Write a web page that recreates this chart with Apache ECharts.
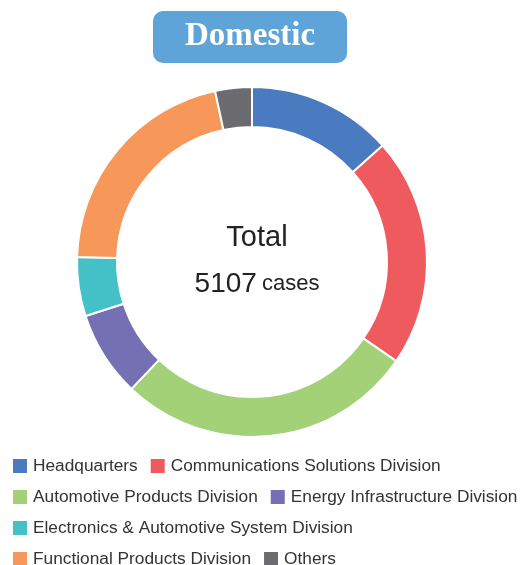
<!DOCTYPE html>
<html>
<head>
    <meta charset="utf-8" />
    <title>Domestic</title>
    <style>
        html, body { margin: 0; padding: 0; background: #fff; }
    </style>
</head>
<body>
<div id="main" style="width:521px;height:565px"></div>
<script src="https://cdn.jsdelivr.net/npm/echarts@6/dist/echarts.min.js"></script>
<script type="text/javascript">
    var divisions = ['Headquarters', 'Communications Solutions Division', 'Automotive Products Division',
        'Energy Infrastructure Division', 'Electronics & Automotive System Division',
        'Functional Products Division', 'Others'];
    var cases = [685, 1081, 1405, 404, 279, 1080, 173];
    var colors = ['#4a7abf', '#ef5a5e', '#a3d177', '#7570b3', '#44c1c6', '#f7975a', '#6b6b70'];

    var total = 0;
    for (var i = 0; i < cases.length; i++) total += cases[i];

    var myChart = echarts.init(document.getElementById('main'));
    var option = {
        backgroundColor: '#fff',
        color: colors,
        title: [{
            text: 'Domestic',
            left: 153,
            top: 11,
            padding: [9, 32, 10, 32],
            backgroundColor: '#5fa4d8',
            borderRadius: 10,
            textStyle: {
                color: '#fff',
                fontFamily: 'Liberation Serif',
                fontWeight: 'bold',
                fontSize: 33
            }
        }, {
            text: '{t|Total}\n{n|' + total + '} {c|cases}',
            left: 252,
            top: 210,
            textAlign: 'center',
            textStyle: {
                rich: {
                    t: { fontFamily: 'Liberation Sans', fontWeight: 'normal', fontSize: 29, color: '#222', lineHeight: 46, align: 'center' },
                    n: { fontFamily: 'Liberation Sans', fontWeight: 'normal', fontSize: 28, color: '#222', lineHeight: 46 },
                    c: { fontFamily: 'Liberation Sans', fontWeight: 'normal', fontSize: 22, color: '#222', lineHeight: 46 }
                }
            }
        }],
        legend: {
            data: divisions,
            left: 11,
            top: 456,
            width: 515,
            padding: 0,
            itemWidth: 16,
            itemHeight: 16,
            itemGap: 11,
            icon: 'rect',
            textStyle: {
                fontFamily: 'Liberation Sans',
                fontSize: 17.3,
                color: '#333',
                lineHeight: 20
            }
        },
        series: [{
            type: 'pie',
            center: [252, 262],
            radius: [135, 175],
            startAngle: 90,
            clockwise: true,
            silent: true,
            label: { show: false },
            labelLine: { show: false },
            itemStyle: { borderColor: '#fff', borderWidth: 2 },
            data: divisions.map(function (d, k) {
                return { name: d, value: cases[k] };
            })
        }]
    };
    myChart.setOption(option);
</script>
</body>
</html>
